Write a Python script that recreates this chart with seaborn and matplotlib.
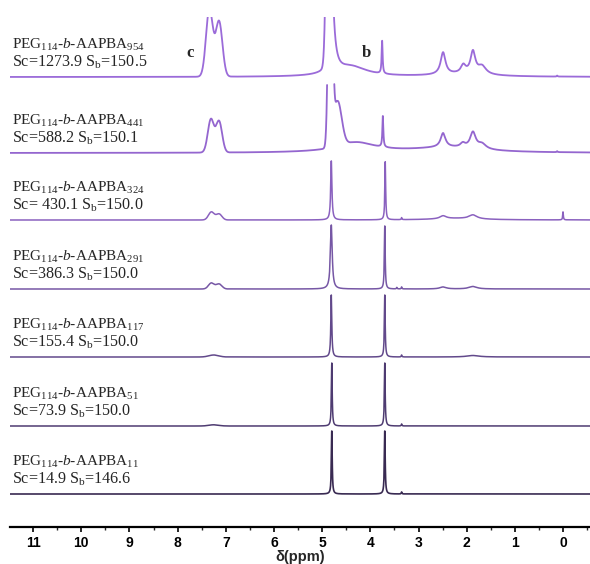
import numpy as np
import pandas as pd
import matplotlib
matplotlib.use("Agg")
import matplotlib.pyplot as plt
import seaborn as sns
from matplotlib.ticker import MultipleLocator

sns.set_style("white")
plt.rcParams['font.family'] = ['Liberation Serif', 'DejaVu Serif']
plt.rcParams['mathtext.fontset'] = 'custom'
plt.rcParams['mathtext.rm'] = 'Liberation Serif'
plt.rcParams['mathtext.it'] = 'Liberation Serif:italic'
plt.rcParams['mathtext.bf'] = 'Liberation Serif:bold'

# ---------------- data ----------------
dp_values = ["954", "441", "324", "291", "117", "51", "11"]
sc_values = ["1273.9", "588.2", " 430.1", "386.3", "155.4", "73.9", "14.9"]
sb_values = ["150.5", "150.1", "150.0", "150.0", "150.0", "150.0", "146.6"]

# peak lists: (ppm, height, half-width, shape)
peaks_954 = [(7.34, 68, 0.082, "G"), (7.14, 55, 0.082, "G"),
             (4.865, 300, 0.05, "G"), (4.78, 50, 0.07, "L"), (4.40, 10, 0.40, "L"),
             (3.755, 33, 0.012, "L"),
             (2.49, 22, 0.06, "L"), (2.07, 8, 0.06, "L"), (1.87, 22, 0.06, "L"),
             (1.68, 8, 0.10, "L"), (2.10, 2.5, 0.70, "L"), (0.12, 1.0, 0.01, "L")]
peaks_441 = [(7.31, 33, 0.075, "G"), (7.14, 31, 0.075, "G"),
             (4.83, 300, 0.045, "G"), (4.68, 45, 0.10, "G"), (4.30, 10, 0.50, "L"),
             (3.74, 31, 0.012, "L"),
             (2.49, 14, 0.06, "L"), (2.08, 4, 0.06, "L"), (1.87, 16, 0.07, "L"),
             (1.68, 5, 0.10, "L"), (2.40, 5, 0.90, "L"), (0.12, 1.0, 0.01, "L")]
peaks_324 = [(7.30, 8, 0.07, "G"), (7.14, 6, 0.07, "G"),
             (4.81, 59, 0.015, "L"), (3.69, 58, 0.010, "L"), (3.35, 2, 0.008, "L"),
             (2.49, 3, 0.08, "L"), (1.87, 4, 0.10, "L"), (2.20, 1.5, 0.60, "L"),
             (0.0, 8, 0.008, "L")]
peaks_291 = [(7.30, 6, 0.07, "G"), (7.14, 5, 0.07, "G"),
             (4.81, 64, 0.022, "L"), (3.70, 63, 0.010, "L"),
             (3.45, 1.5, 0.008, "L"), (3.35, 2, 0.008, "L"),
             (2.49, 2, 0.08, "L"), (1.87, 2.5, 0.10, "L")]
peaks_117 = [(7.25, 2, 0.12, "G"), (4.81, 62, 0.012, "L"), (3.70, 62, 0.010, "L"),
             (3.35, 2, 0.008, "L"), (1.87, 1.5, 0.15, "L")]
peaks_51 = [(7.25, 1.2, 0.12, "G"), (4.80, 63, 0.010, "L"), (3.70, 63, 0.010, "L"),
            (3.35, 2, 0.008, "L")]
peaks_11 = [(4.80, 63, 0.010, "L"), (3.70, 63, 0.010, "L"), (3.35, 2, 0.008, "L")]

all_peaks = [peaks_954, peaks_441, peaks_324, peaks_291, peaks_117, peaks_51, peaks_11]
offsets = [450, 374, 307, 238, 170, 101, 33]
clip_heights = [200, 70, 200, 200, 200, 200, 200]
colors = ["#9b6bd9", "#9466cf", "#8a61bf", "#7657a5", "#62498b", "#4e3b71", "#392a52"]
widths = [1.3, 1.3, 1.1, 1.1, 1.1, 1.1, 1.2]

ticks = list(range(0, 12))

# ---------------- build spectra ----------------
ppm = np.arange(-0.6, 11.6, 0.002)


def spectrum(peaks):
    y = np.zeros_like(ppm)
    for c, h, w, kind in peaks:
        d = ppm - c
        if kind == "G":
            y += h * np.exp(-np.log(2) * (d / w) ** 2)
        else:
            y += h * w ** 2 / (d ** 2 + w ** 2)
    return y


fig = plt.figure(figsize=(5.9, 5.64), dpi=100)
ax = fig.add_axes([10 / 590, 37 / 564, 580 / 590, 510 / 564])

for i, peaks in enumerate(all_peaks):
    y = spectrum(peaks)
    keep = y <= clip_heights[i]
    seg = np.cumsum(np.r_[0, np.diff(keep.astype(int)) != 0])
    df = pd.DataFrame({"ppm": ppm[keep], "I": y[keep] + offsets[i], "seg": seg[keep]})
    sns.lineplot(data=df, x="ppm", y="I", units="seg", estimator=None, sort=False,
                 color=colors[i], linewidth=widths[i], ax=ax, legend=False)
    ax.text(11.44, offsets[i] + 28,
            r"PEG$_{114}$-$\mathit{b}$-AAPBA$_{%s}$" % dp_values[i],
            fontsize=11, ha="left", va="baseline")
    ax.text(11.44, offsets[i] + 10,
            r"Sc=%s S$_{\mathrm{b}}$=%s" % (sc_values[i], sb_values[i]),
            fontsize=11.6, ha="left", va="baseline")

ax.text(7.74, 474, "c", fontsize=12, fontweight="bold", ha="center", va="center")
ax.text(4.09, 474, "b", fontsize=12, fontweight="bold", ha="center", va="center")

ax.set_xlim(11.48, -0.56)
ax.set_ylim(0, 510)
ax.set_yticks([])
ax.set_ylabel("")
ax.set_xticks(ticks)
ax.set_xticklabels([str(t) for t in ticks], fontfamily="Liberation Sans",
                   fontweight="bold", fontsize=10)
ax.xaxis.set_minor_locator(MultipleLocator(0.5))
ax.tick_params(axis="x", which="major", direction="out", length=3.5, width=1.2,
               pad=3, bottom=True, colors="black")
ax.tick_params(axis="x", which="minor", direction="out", length=2, width=1.0, bottom=True)
ax.set_xlabel("δ(ppm)", fontfamily="Liberation Sans", fontweight="bold",
              fontsize=10.5, labelpad=0)
for side in ["top", "left", "right"]:
    ax.spines[side].set_visible(False)
ax.spines["bottom"].set_linewidth(1.6)
ax.spines["bottom"].set_color("black")
ax.patch.set_alpha(0)

fig.savefig("out.png", dpi=100)
